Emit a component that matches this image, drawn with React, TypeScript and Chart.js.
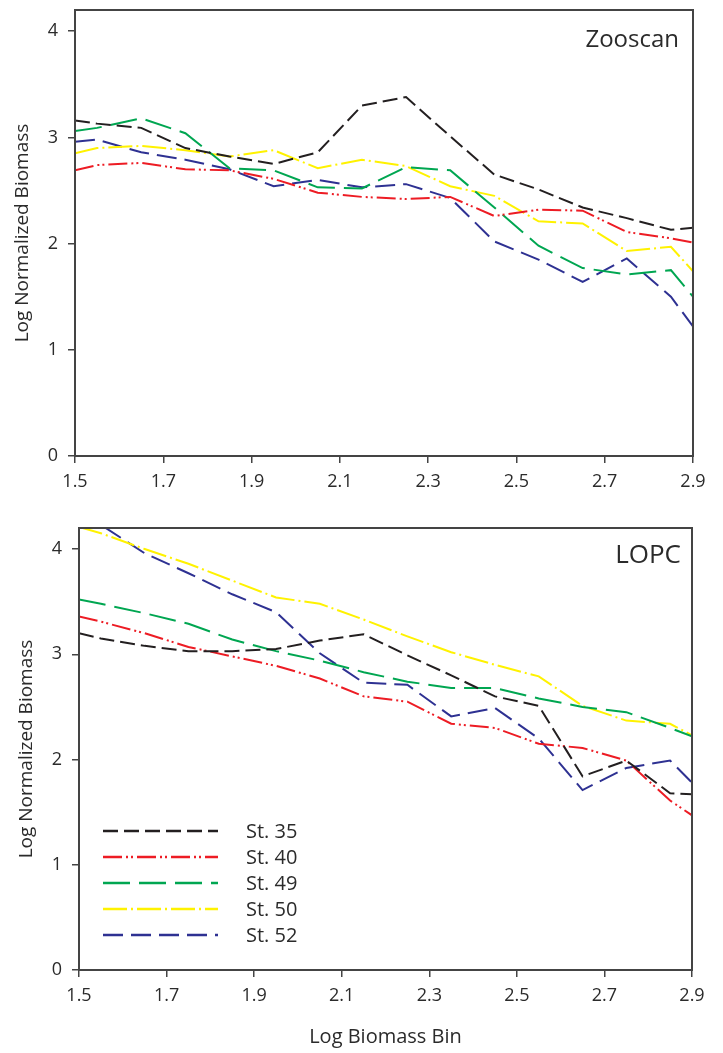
import React, { useEffect, useRef } from 'react';
import { Chart, registerables } from 'chart.js';

Chart.register(...registerables);

// ---- data ----
const xBins = [1.5, 1.55, 1.65, 1.75, 1.85, 1.95, 2.05, 2.15, 2.25, 2.35, 2.45, 2.55, 2.65, 2.75, 2.85, 2.9];
const xTickValues = [1.5, 1.7, 1.9, 2.1, 2.3, 2.5, 2.7, 2.9];
const yTickValues = [0, 1, 2, 3, 4];
const stations = ['St. 35', 'St. 40', 'St. 49', 'St. 50', 'St. 52'];

const zooSt35 = [3.16, 3.13, 3.09, 2.90, 2.82, 2.75, 2.86, 3.30, 3.38, 3.01, 2.65, 2.51, 2.34, 2.24, 2.13, 2.15];
const zooSt40 = [2.69, 2.74, 2.76, 2.70, 2.69, 2.61, 2.48, 2.44, 2.42, 2.44, 2.26, 2.32, 2.31, 2.11, 2.05, 2.01];
const zooSt49 = [3.06, 3.09, 3.18, 3.04, 2.71, 2.69, 2.53, 2.52, 2.72, 2.69, 2.34, 1.98, 1.77, 1.71, 1.75, 1.50];
const zooSt50 = [2.85, 2.90, 2.92, 2.88, 2.82, 2.88, 2.71, 2.79, 2.73, 2.54, 2.45, 2.21, 2.19, 1.93, 1.97, 1.74];
const zooSt52 = [2.96, 2.98, 2.86, 2.79, 2.70, 2.54, 2.60, 2.53, 2.56, 2.43, 2.02, 1.85, 1.64, 1.86, 1.50, 1.22];

const lopcSt35 = [3.20, 3.15, 3.08, 3.03, 3.03, 3.05, 3.13, 3.19, 2.99, 2.80, 2.60, 2.51, 1.84, 1.99, 1.68, 1.67];
const lopcSt40 = [3.36, 3.31, 3.20, 3.07, 2.98, 2.89, 2.77, 2.60, 2.55, 2.34, 2.30, 2.15, 2.11, 1.99, 1.61, 1.47];
const lopcSt49 = [3.52, 3.48, 3.39, 3.29, 3.14, 3.03, 2.94, 2.83, 2.74, 2.68, 2.68, 2.58, 2.50, 2.45, 2.30, 2.22];
const lopcSt50 = [4.21, 4.15, 4.00, 3.86, 3.70, 3.54, 3.48, 3.33, 3.17, 3.02, 2.90, 2.79, 2.51, 2.37, 2.34, 2.23];
const lopcSt52 = [4.33, 4.23, 3.96, 3.77, 3.57, 3.40, 3.01, 2.73, 2.71, 2.41, 2.49, 2.20, 1.71, 1.92, 1.99, 1.78];

// ---- styles ----
const FONT = "'Open Sans', 'DejaVu Sans', sans-serif";
const TEXT = '#2b2b2b';
const AXIS = '#444444';
const colors = ['#231F20', '#ED1C24', '#00A651', '#FFF200', '#2E3192'];
const dashes = [
  [15, 6],
  [19, 4, 2, 3, 2, 4],
  [27, 9],
  [24, 4, 2, 4],
  [20, 8],
];

function makeDatasets(series: number[][]) {
  return series.map((vals, i) => ({
    label: stations[i],
    data: xBins.map((x, j) => ({ x, y: vals[j] })),
    borderColor: colors[i],
    backgroundColor: colors[i],
    borderWidth: 2,
    borderDash: dashes[i],
    pointRadius: 0,
    tension: 0,
    fill: false,
    clip: 0,
  }));
}

type PanelOpts = {
  label: string;
  labelSize: number;
  labelRight: number;
  labelBaseline: number;
  yAxisWidth: number;
  xAxisHeight: number;
  padTop: number;
  padRight: number;
  yTitlePad: number;
  xTitle: boolean;
  legend: boolean;
};

function makeConfig(series: number[][], o: PanelOpts): any {
  const boxPlugin = {
    id: 'boxAndLabels',
    afterDatasetsDraw(chart: any) {
      const { ctx, chartArea: a } = chart;
      ctx.save();
      ctx.strokeStyle = AXIS;
      ctx.lineWidth = 2;
      ctx.setLineDash([]);
      ctx.strokeRect(a.left, a.top, a.right - a.left, a.bottom - a.top);
      ctx.fillStyle = TEXT;
      ctx.font = `${o.labelSize}px ${FONT}`;
      ctx.textAlign = 'right';
      ctx.textBaseline = 'alphabetic';
      ctx.fillText(o.label, o.labelRight, o.labelBaseline);
      if (o.legend) {
        const x0 = a.left + 24;
        const x1 = a.left + 139;
        const tx = a.left + 167;
        const y0 = 331;
        ctx.font = `20px ${FONT}`;
        ctx.textAlign = 'left';
        ctx.textBaseline = 'middle';
        stations.forEach((s, i) => {
          const y = y0 + i * 26;
          ctx.strokeStyle = colors[i];
          ctx.lineWidth = 2.5;
          ctx.setLineDash(dashes[i]);
          ctx.beginPath();
          ctx.moveTo(x0, y);
          ctx.lineTo(x1, y);
          ctx.stroke();
          ctx.setLineDash([]);
          ctx.fillStyle = TEXT;
          ctx.fillText(s, tx, y + 1);
        });
      }
      ctx.restore();
    },
  };

  return {
    type: 'line',
    data: { datasets: makeDatasets(series) },
    options: {
      responsive: false,
      animation: false,
      maintainAspectRatio: false,
      layout: { padding: { top: o.padTop, right: o.padRight, bottom: 0, left: 0 } },
      plugins: { legend: { display: false }, tooltip: { enabled: false } },
      scales: {
        x: {
          type: 'linear',
          min: 1.5,
          max: 2.9,
          afterBuildTicks: (scale: any) => {
            scale.ticks = xTickValues.map((v) => ({ value: v }));
          },
          afterFit: (scale: any) => {
            scale.height = o.xAxisHeight;
            scale.paddingLeft = 0;
            scale.paddingRight = 0;
          },
          ticks: {
            callback: (v: any) => Number(v).toFixed(1),
            font: { family: FONT, size: 18 },
            color: TEXT,
            padding: 8,
            maxRotation: 0,
            autoSkip: false,
          },
          grid: { drawOnChartArea: false, drawTicks: true, tickLength: 7, color: AXIS, lineWidth: 1.5 },
          border: { display: true, color: AXIS, width: 2 },
          title: {
            display: o.xTitle,
            text: 'Log Biomass Bin',
            font: { family: FONT, size: 20 },
            color: TEXT,
            padding: { top: 0, bottom: 4 },
          },
        },
        y: {
          type: 'linear',
          min: 0,
          max: 4.2,
          afterBuildTicks: (scale: any) => {
            scale.ticks = yTickValues.map((v) => ({ value: v }));
          },
          afterFit: (scale: any) => {
            scale.width = o.yAxisWidth;
            scale.paddingTop = 0;
            scale.paddingBottom = 0;
          },
          ticks: {
            callback: (v: any) => String(v),
            font: { family: FONT, size: 18 },
            color: TEXT,
            padding: 10,
          },
          grid: { drawOnChartArea: false, drawTicks: true, tickLength: 7, color: AXIS, lineWidth: 1.5 },
          border: { display: true, color: AXIS, width: 2 },
          title: {
            display: true,
            text: 'Log Normalized Biomass',
            font: { family: FONT, size: 19 },
            color: TEXT,
            padding: { top: o.yTitlePad, bottom: 0 },
          },
        },
      },
    },
    plugins: [boxPlugin],
  };
}

export default function App() {
  const topRef = useRef<HTMLCanvasElement | null>(null);
  const botRef = useRef<HTMLCanvasElement | null>(null);

  useEffect(() => {
    const c1 = new Chart(
      topRef.current as HTMLCanvasElement,
      makeConfig([zooSt35, zooSt40, zooSt49, zooSt50, zooSt52], {
        label: 'Zooscan',
        labelSize: 24,
        labelRight: 679,
        labelBaseline: 47,
        yAxisWidth: 75,
        xAxisHeight: 44,
        padTop: 10,
        padRight: 30,
        yTitlePad: 11,
        xTitle: false,
        legend: false,
      })
    );
    const c2 = new Chart(
      botRef.current as HTMLCanvasElement,
      makeConfig([lopcSt35, lopcSt40, lopcSt49, lopcSt50, lopcSt52], {
        label: 'LOPC',
        labelSize: 26,
        labelRight: 681,
        labelBaseline: 63,
        yAxisWidth: 79,
        xAxisHeight: 83,
        padTop: 28,
        padRight: 31,
        yTitlePad: 15,
        xTitle: true,
        legend: true,
      })
    );
    return () => {
      c1.destroy();
      c2.destroy();
    };
  }, []);

  return (
    <div style={{ position: 'absolute', left: 0, top: 0, width: 723, height: 1053, background: '#fff' }}>
      <canvas ref={topRef} width={723} height={500} style={{ position: 'absolute', left: 0, top: 0, display: 'block' }} />
      <canvas ref={botRef} width={723} height={553} style={{ position: 'absolute', left: 0, top: 500, display: 'block' }} />
    </div>
  );
}
